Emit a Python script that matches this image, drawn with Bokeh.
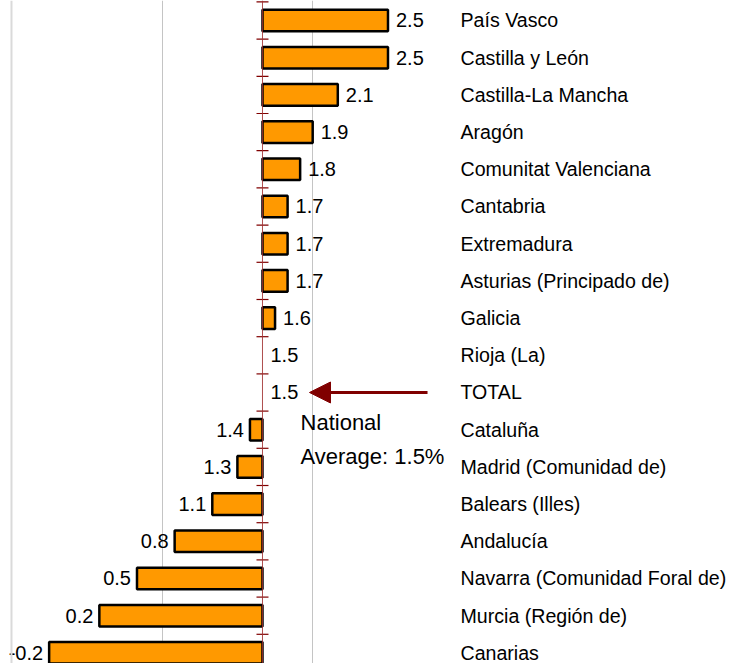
from bokeh.plotting import figure
from bokeh.models import ColumnDataSource, Range1d, Span, Grid, FixedTicker, Arrow, NormalHead, Label
from bokeh.core.properties import value
from bokeh.embed import file_html
from bokeh.resources import INLINE

# ---- data ----
regions = ["País Vasco", "Castilla y León", "Castilla-La Mancha", "Aragón",
           "Comunitat Valenciana", "Cantabria", "Extremadura",
           "Asturias (Principado de)", "Galicia", "Rioja (La)", "TOTAL",
           "Cataluña", "Madrid (Comunidad de)", "Balears (Illes)", "Andalucía",
           "Navarra (Comunidad Foral de)", "Murcia (Región de)", "Canarias"]
values = [2.5, 2.5, 2.1, 1.9, 1.8, 1.7, 1.7, 1.7, 1.6, 1.5, 1.5,
          1.4, 1.3, 1.1, 0.8, 0.5, 0.2, -0.2]
national_average = 1.5
grid_values = [0.7, 1.9]
frame_value = -0.5
annotation_lines = ["National", "Average: 1.5%"]

FONT = "Liberation Sans"
ORANGE = "#FF9900"
DARKRED = "#800000"

rows = list(range(len(regions)))

p = figure(width=731, height=663, output_backend="svg", toolbar_location=None,
           x_range=Range1d(-0.5876, 5.2371), y_range=Range1d(17.285, -0.5376),
           x_axis_location=None, y_axis_location=None, min_border=0,
           outline_line_color=None, background_fill_color="white")
for g in list(p.renderers) + list(p.center):
    if isinstance(g, Grid):
        g.visible = False

# gridlines
p.add_layout(Grid(dimension=0, ticker=FixedTicker(ticks=grid_values),
                  grid_line_color="#c4c4c4", grid_line_width=1))
p.add_layout(Span(location=frame_value, dimension="height",
                  line_color="#dadada", line_width=2))

# bars (deviation from the national average)
bar_rows = [r for r, v in zip(rows, values) if v != national_average]
bar_vals = [v for v in values if v != national_average]
bars = ColumnDataSource(dict(y=bar_rows, right=bar_vals,
                             left=[national_average] * len(bar_vals)))
p.hbar(y="y", left="left", right="right", height=0.58, source=bars,
       fill_color=ORANGE, line_color="black", line_width=2.5)

# vertical axis at the national average with tick marks between rows
p.add_layout(Span(location=national_average, dimension="height",
                  line_color="#a03030", line_width=1, line_alpha=0.85))
tick_half = 6 / 125.5
bounds = [r - 0.5 for r in range(len(regions) + 1)]
p.segment(x0=[national_average - tick_half] * len(bounds), y0=bounds,
          x1=[national_average + tick_half] * len(bounds), y1=bounds,
          line_color=DARKRED, line_width=1.2)

# value labels
labels = ColumnDataSource(dict(
    x=values, y=rows, text=[f"{v:.1f}" for v in values],
    align=["left" if v >= national_average else "right" for v in values],
    off=[8 if v >= national_average else -6 for v in values]))
p.text(x="x", y="y", text="text", source=labels, text_align="align",
       x_offset="off", text_baseline="middle", text_font=value(FONT),
       text_font_size="20px", text_color="black")

# category labels
cats = ColumnDataSource(dict(x=[3.0777] * len(regions), y=rows, text=regions))
p.text(x="x", y="y", text="text", source=cats, text_align="left",
       text_baseline="middle", text_font=value(FONT), text_font_size="19.6px",
       text_color="black")

# arrow pointing to the TOTAL row
total_row = regions.index("TOTAL")
p.add_layout(Arrow(x_start=2.815, y_start=total_row, x_end=1.8745, y_end=total_row,
                   line_color=DARKRED, line_width=3,
                   end=NormalHead(size=21, fill_color=DARKRED, line_color=DARKRED)))

for k, txt in enumerate(annotation_lines):
    p.add_layout(Label(x=1.803, y=10.81 + k * 0.91, text=txt,
                       text_font=FONT, text_font_size="22px",
                       text_baseline="middle", text_color="black"))

open("out.html", "w").write(file_html(p, INLINE))
